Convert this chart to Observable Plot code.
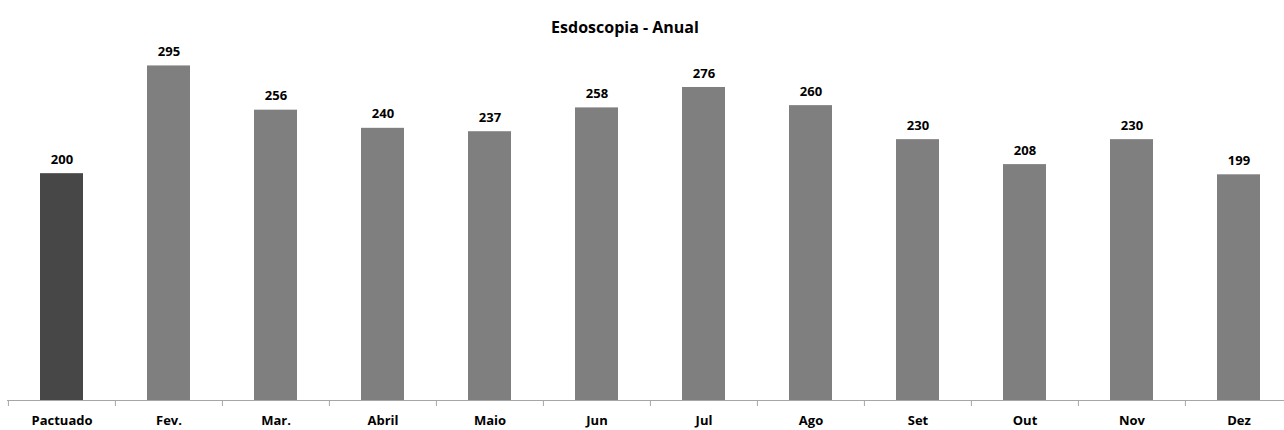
<!DOCTYPE html>
<html>
<head>
<meta charset="utf-8">
<script src="https://cdn.jsdelivr.net/npm/d3@7"></script>
<script src="https://cdn.jsdelivr.net/npm/@observablehq/plot@0.6"></script>
<style>
  html, body { margin: 0; padding: 0; background: #fff; }
  svg { display: block; }
</style>
</head>
<body>
<div id="chart"></div>
<script>
const title = "Esdoscopia - Anual";
const categories = ["Pactuado", "Fev.", "Mar.", "Abril", "Maio", "Jun", "Jul", "Ago", "Set", "Out", "Nov", "Dez"];
const values = [200, 295, 256, 240, 237, 258, 276, 260, 230, 208, 230, 199];
const highlight = "Pactuado";

const data = categories.map((c, i) => ({cat: c, value: values[i]}));

const W = 1284, H = 430;
const xRange = [7, 1293];
const paddingInner = 0.6, paddingOuter = 0.3;
const step = (xRange[1] - xRange[0]) / (categories.length - paddingInner + 2 * paddingOuter);
const font = "'Open Sans', 'DejaVu Sans', sans-serif";

const chart = Plot.plot({
  width: W,
  height: H,
  marginLeft: 7,
  marginRight: 0,
  marginTop: 0,
  marginBottom: 30,
  style: {fontFamily: font, background: "#fff"},
  x: {domain: categories, range: xRange, paddingInner, paddingOuter, label: null},
  y: {domain: [0, 352.7], axis: null},
  marks: [
    Plot.barY(data, {
      x: "cat", y: "value",
      fill: d => d.cat === highlight ? "#474747" : "#7f7f7f"
    }),
    Plot.text(data, {
      x: "cat", y: "value", text: d => String(d.value),
      dy: -14, fontWeight: "bold", fontSize: 13, fill: "#000"
    }),
    Plot.ruleY([0], {stroke: "#a6a6a6", strokeWidth: 1}),
    Plot.ruleX(categories, {
      x: d => d, dx: -step / 2, y1: 0, y2: -5.3, stroke: "#a6a6a6", strokeWidth: 1
    }),
    Plot.axisX({
      tickSize: 0, tickPadding: 15, fontSize: 13, fontWeight: "bold", fill: "#000", label: null
    }),
    Plot.text([title], {
      frameAnchor: "top", text: d => d, dx: -21, dy: 21,
      fontWeight: "bold", fontSize: 16, fill: "#000"
    })
  ]
});
document.getElementById("chart").appendChild(chart);
</script>
</body>
</html>
